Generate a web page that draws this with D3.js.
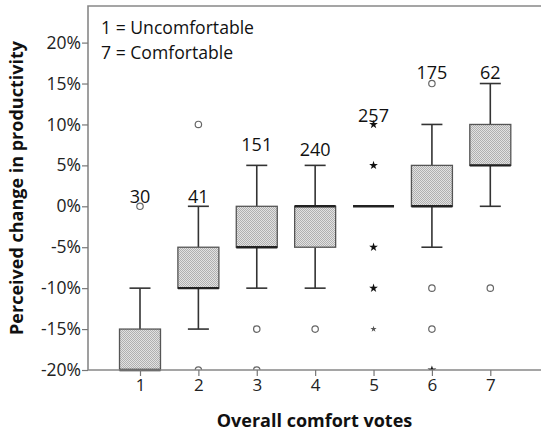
<!DOCTYPE html>
<html>
<head>
<meta charset="utf-8">
<script src="https://cdn.jsdelivr.net/npm/d3@7"></script>
<style>
  body { margin: 0; background: #fff; }
  svg { display: block; font-family: "Open Sans", Lato, sans-serif; }
</style>
</head>
<body>
<svg width="541" height="435"></svg>
<script>
const categories = [1, 2, 3, 4, 5, 6, 7];
const counts = [30, 41, 151, 240, 257, 175, 62];
const lowerWhisker = [-20, -15, -10, -10, 0, -5, 0];
const q1 = [-20, -10, -5, -5, 0, 0, 5];
const medians = [-20, -10, -5, 0, 0, 0, 5];
const q3 = [-15, -5, 0, 0, 0, 5, 10];
const upperWhisker = [-10, 0, 5, 5, 0, 10, 15];
// where the n label sits, in data units
const labelValues = [0.4, 0.4, 6.7, 6.2, 10.3, 15.6, 15.6];
const outliers = [
  {cat: 1, value: 0, kind: "circle"},
  {cat: 2, value: 10, kind: "circle"},
  {cat: 2, value: -20, kind: "circle"},
  {cat: 3, value: -15, kind: "circle"},
  {cat: 3, value: -20, kind: "circle"},
  {cat: 4, value: -15, kind: "circle"},
  {cat: 5, value: 10, kind: "star"},
  {cat: 5, value: 5, kind: "star"},
  {cat: 5, value: -5, kind: "star"},
  {cat: 5, value: -10, kind: "star"},
  {cat: 5, value: -15, kind: "smallstar"},
  {cat: 6, value: 15, kind: "circle"},
  {cat: 6, value: -10, kind: "circle"},
  {cat: 6, value: -15, kind: "circle"},
  {cat: 6, value: -20, kind: "star"},
  {cat: 7, value: -10, kind: "circle"}
];
const yTicks = [-20, -15, -10, -5, 0, 5, 10, 15, 20];
const legendLines = ["1 = Uncomfortable", "7 = Comfortable"];

const svg = d3.select("svg");
const plotLeft = 88, plotTop = 6, plotBottom = 370, plotRight = 541;

const x = d3.scaleLinear().domain([1, 7]).range([140, 490.3]);
const y = d3.scaleLinear().domain([-20, 20]).range([plotBottom, 42.6]);
const boxW = 41, capW = 21;

// stipple fill for the boxes
const defs = svg.append("defs");
const pat = defs.append("pattern")
  .attr("id", "stipple")
  .attr("width", 2).attr("height", 2)
  .attr("patternUnits", "userSpaceOnUse");
pat.append("rect").attr("width", 2).attr("height", 2).attr("fill", "#e2e2e2");
pat.append("rect").attr("width", 1).attr("height", 1).attr("fill", "#b0b0b0");
pat.append("rect").attr("x", 1).attr("y", 1).attr("width", 1).attr("height", 1).attr("fill", "#b0b0b0");

defs.append("clipPath").attr("id", "plotclip")
  .append("rect").attr("x", plotLeft).attr("y", plotTop)
  .attr("width", plotRight - plotLeft).attr("height", plotBottom - plotTop);

const plot = svg.append("g");

const data = categories.map((c, i) => ({
  cat: c, n: counts[i], lo: lowerWhisker[i], q1: q1[i], med: medians[i],
  q3: q3[i], hi: upperWhisker[i], lab: labelValues[i]
}));

const boxes = plot.selectAll("g.box").data(data).enter()
  .append("g").attr("class", "box");

// whiskers
boxes.filter(d => d.hi > d.q3).append("line")
  .attr("x1", d => x(d.cat)).attr("x2", d => x(d.cat))
  .attr("y1", d => y(d.q3)).attr("y2", d => y(d.hi))
  .attr("stroke", "#333").attr("stroke-width", 1.6);
boxes.filter(d => d.hi > d.q3).append("line")
  .attr("x1", d => x(d.cat) - capW / 2).attr("x2", d => x(d.cat) + capW / 2)
  .attr("y1", d => y(d.hi)).attr("y2", d => y(d.hi))
  .attr("stroke", "#333").attr("stroke-width", 1.6);
boxes.filter(d => d.lo < d.q1).append("line")
  .attr("x1", d => x(d.cat)).attr("x2", d => x(d.cat))
  .attr("y1", d => y(d.q1)).attr("y2", d => y(d.lo))
  .attr("stroke", "#333").attr("stroke-width", 1.6);
boxes.filter(d => d.lo < d.q1).append("line")
  .attr("x1", d => x(d.cat) - capW / 2).attr("x2", d => x(d.cat) + capW / 2)
  .attr("y1", d => y(d.lo)).attr("y2", d => y(d.lo))
  .attr("stroke", "#333").attr("stroke-width", 1.6);

// boxes
boxes.filter(d => d.q3 > d.q1).append("rect")
  .attr("x", d => x(d.cat) - boxW / 2)
  .attr("y", d => y(d.q3))
  .attr("width", boxW)
  .attr("height", d => y(d.q1) - y(d.q3))
  .attr("fill", "url(#stipple)")
  .attr("stroke", "#555").attr("stroke-width", 1.3);

// medians
boxes.append("line")
  .attr("x1", d => x(d.cat) - boxW / 2).attr("x2", d => x(d.cat) + boxW / 2)
  .attr("y1", d => y(d.med)).attr("y2", d => y(d.med))
  .attr("stroke", "#222").attr("stroke-width", 2.4);

// outliers
const star = d3.symbol().type(d3.symbolStar);
const outG = plot.append("g").attr("clip-path", "url(#plotclip)");
outG.selectAll("circle").data(outliers.filter(o => o.kind === "circle")).enter()
  .append("circle")
  .attr("cx", o => x(o.cat)).attr("cy", o => y(o.value))
  .attr("r", 3.2)
  .attr("fill", "none").attr("stroke", "#666").attr("stroke-width", 1.2);
outG.selectAll("path").data(outliers.filter(o => o.kind !== "circle")).enter()
  .append("path")
  .attr("transform", o => `translate(${x(o.cat)},${y(o.value)})`)
  .attr("d", o => star.size(o.kind === "star" ? 24 : 12)())
  .attr("fill", o => o.kind === "star" ? "#111" : "#555");

// n labels
plot.selectAll("text.n").data(data).enter()
  .append("text").attr("class", "n")
  .attr("x", d => x(d.cat)).attr("y", d => y(d.lab))
  .attr("text-anchor", "middle")
  .attr("font-size", 18).attr("fill", "#111")
  .text(d => d.n);

// frame
svg.append("path")
  .attr("d", `M${plotRight},${plotTop}H${plotLeft}V${plotBottom}H${plotRight}`)
  .attr("fill", "none").attr("stroke", "#888").attr("stroke-width", 1.6);

// y axis
const yAxis = svg.append("g")
  .attr("transform", `translate(${plotLeft},0)`)
  .call(d3.axisLeft(y).tickValues(yTicks).tickSize(6).tickPadding(1)
    .tickFormat(d => d + "%"));
yAxis.select(".domain").remove();
yAxis.selectAll(".tick line").attr("stroke", "#777").attr("stroke-width", 1.2);
yAxis.selectAll(".tick text").attr("font-size", 17.5).attr("fill", "#222")
  .attr("font-family", "'Open Sans', Lato, sans-serif");

// x axis
const xAxis = svg.append("g")
  .attr("transform", `translate(0,${plotBottom})`)
  .call(d3.axisBottom(x).tickValues(categories).tickSize(6).tickPadding(3)
    .tickFormat(d3.format("d")));
xAxis.select(".domain").remove();
xAxis.selectAll(".tick line").attr("stroke", "#777").attr("stroke-width", 1.2);
xAxis.selectAll(".tick text").attr("font-size", 17).attr("fill", "#222")
  .attr("font-family", "'Open Sans', Lato, sans-serif");

// legend text
svg.selectAll("text.legend").data(legendLines).enter()
  .append("text").attr("class", "legend")
  .attr("x", 101).attr("y", (d, i) => 33.5 + i * 25)
  .attr("font-size", 17.6).attr("fill", "#111")
  .text(d => d);

// axis titles
svg.append("text")
  .attr("x", (plotLeft + plotRight) / 2).attr("y", 427)
  .attr("text-anchor", "middle")
  .attr("font-size", 18).attr("font-weight", "bold").attr("fill", "#111")
  .text("Overall comfort votes");
svg.append("text")
  .attr("transform", `translate(23,${(plotTop + plotBottom) / 2}) rotate(-90)`)
  .attr("text-anchor", "middle")
  .attr("font-size", 18).attr("font-weight", "bold").attr("fill", "#111")
  .text("Perceived change in productivity");
</script>
</body>
</html>
